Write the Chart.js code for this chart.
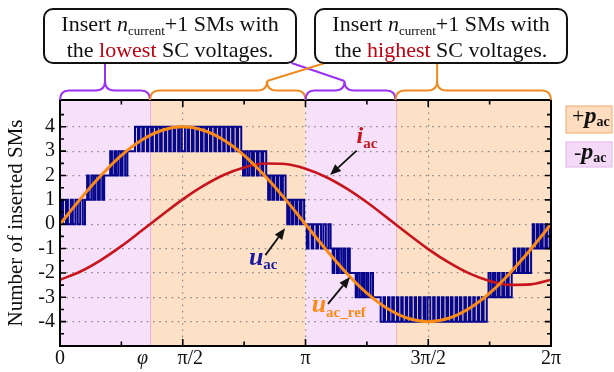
<!DOCTYPE html>
<html><head><meta charset="utf-8">
<script src="https://cdn.jsdelivr.net/npm/chart.js@4.4.1/dist/chart.umd.min.js"></script>
<style>html,body{margin:0;padding:0;background:#fff}#wrap{width:614px;height:372px;position:relative}</style>
</head><body><div id="wrap"><canvas id="c" width="614" height="372"></canvas></div>
<script>
// ---------------- data (angles in degrees) ----------------
const PHI = 66;
const angleDeg = [0,15,30,45,60,75,90,105,120,135,150,165,180,195,210,225,240,255,270,285,300,315,330,345,360];
const uacRef = [0,1.04,2.0,2.83,3.46,3.86,4.0,3.86,3.46,2.83,2.0,1.04,0,-1.04,-2.0,-2.83,-3.46,-3.86,-4.0,-3.86,-3.46,-2.83,-2.0,-1.04,0];
const iac = [-2.28,-1.94,-1.47,-0.90,-0.26,0.39,1.02,1.57,2.02,2.33,2.49,2.47,2.28,1.94,1.47,0.90,0.26,-0.39,-1.02,-1.57,-2.02,-2.33,-2.49,-2.47,-2.28];
// u_ac: bands of switching between two adjacent levels
const uacBandFrom = [0,1,2,3,3,2,1,0,-1,-2,-3,-3,-2,-1];
const uacBandAlt  = [1,2,3,4,2,1,0,-1,-2,-3,-4,-2,-1,0];
const uacToggles = [
  [1.0,2.3,4.4,5.8,7.9,9.4,11.3,13.0,14.8,16.7,18.3],
  [19.9,21.1,23.0,24.6,26.1,27.9,29.2,31.0,32.4],
  [36.8,38.1,39.9,41.3,42.9,44.6,45.9,47.8,49.4],
  [55.0,57.1,58.3,60.4,61.5,63.7,64.8,66.9,68.1,70.3,71.4,73.4,74.6,76.8,77.9,80.0,81.2,83.3,84.5,86.6,87.7,89.3,91.6,93.5,
   94.7,96.8,97.9,100.1,101.2,103.3,104.5,106.6,107.8,109.9,111.0,113.2,114.3,116.4,117.6,119.7,120.8,122.9,124.1,126.2,127.3,129.5,130.6,132.9],
  [134.2,135.7,137.4,139.0,140.8,142.2,144.3,145.6,147.7,149.0,151.2],
  [152.6,153.9,155.7,157.0,158.9,160.1,162.0,163.4,165.4],
  [166.6,167.9,169.6,170.9,172.7,173.9,175.8,177.1,179.0],
  [180.9,182.2,184.5,185.7,188.0,189.3,191.4,193.1,194.9,196.8,198.4],
  [199.9,201.2,203.1,204.5,206.2,207.8,209.3,211.1,212.5],
  [216.8,218.2,219.8,221.4,222.9,224.5,226.0,227.8,229.5],
  [235.1,237.2,238.3,240.5,241.6,243.6,244.8,247.0,248.1,250.2,251.3,253.5,254.6,256.7,257.9,260.1,261.1,263.2,264.4,266.6,267.8,269.5,271.5,273.6,
   274.7,276.9,278.0,280.0,281.2,283.4,284.5,286.5,287.8,290.0,291.1,293.1,294.3,296.5,297.6,299.7,300.9,303.0,304.1,306.3,307.4,309.4,310.6,312.9],
  [314.2,315.8,317.5,319.0,320.8,322.3,324.3,325.7,327.6,329.0,331.2],
  [332.6,333.8,335.8,337.0,338.8,340.2,342.0,343.3,345.4],
  [346.6,347.8,349.7,350.9,352.6,353.9,355.9,357.0,359.0]
];
const xTickValues = [0, PHI, 90, 180, 270, 360];
const xTickLabels = ['0', 'φ   ', '   π/2', 'π', '3π/2', '2π'];
const xGridValues = [90, 180, 270];
const yTickValues = [-4,-3,-2,-1,0,1,2,3,4];
const regionBounds = [0, PHI, 180, 180 + PHI, 360];
const regionKinds = ['minus','plus','minus','plus'];

// ---------------- build series ----------------
const refPts = angleDeg.map((a,i)=>({x:a,y:uacRef[i]}));
const iPts = angleDeg.map((a,i)=>({x:a,y:iac[i]}));
const uacPts = [{x:0,y:0}];
let lastLv = 0;
uacToggles.forEach((tg,b)=>{
  let lv = uacBandFrom[b];
  tg.forEach(t=>{ lv = (lv===uacBandFrom[b]) ? uacBandAlt[b] : uacBandFrom[b]; uacPts.push({x:t,y:lv}); });
  lastLv = lv;
});
uacPts.push({x:360,y:lastLv});

// ---------------- styling ----------------
const SERIF = '"Liberation Serif", "Times New Roman", serif';
const C_BLUE = '#06068c', C_RED = '#c8141c', C_ORANGE = '#fb8a16';
const C_PURPLE_BG = '#f7e1fa', C_ORANGE_BG = '#fde1c6';
const C_BRACE_P = '#9b30f5', C_BRACE_O = '#f08a1e';

function runs(ctx, parts, x, y, align){
  let w = 0;
  parts.forEach(p=>{ ctx.font = p.f; p.w = ctx.measureText(p.t).width; w += p.w; });
  let cx = align==='center' ? x - w/2 : x;
  ctx.textBaseline = 'alphabetic'; ctx.textAlign = 'left';
  parts.forEach(p=>{ ctx.font = p.f; ctx.fillStyle = p.c || '#111'; ctx.fillText(p.t, cx, y + (p.dy||0)); cx += p.w; });
}
function arrow(ctx, x1, y1, x2, y2){
  const ang = Math.atan2(y2-y1, x2-x1), L = 11, H = 4.5;
  const bx = x2 - L*Math.cos(ang), by = y2 - L*Math.sin(ang);
  ctx.strokeStyle = '#111'; ctx.lineWidth = 1.8;
  ctx.beginPath(); ctx.moveTo(x1,y1); ctx.lineTo(bx,by); ctx.stroke();
  ctx.fillStyle = '#111'; ctx.beginPath();
  ctx.moveTo(x2,y2);
  ctx.lineTo(bx + H*Math.sin(ang), by - H*Math.cos(ang));
  ctx.lineTo(bx - H*Math.sin(ang), by + H*Math.cos(ang));
  ctx.closePath(); ctx.fill();
}
function brace(ctx, x0, x1, xc, color){
  const yEnd = 100, yMid = 90.5, yTip = 81, r = 9;
  ctx.strokeStyle = color; ctx.lineWidth = 2;
  ctx.beginPath();
  ctx.moveTo(x0, yEnd);
  ctx.quadraticCurveTo(x0, yMid, x0 + r, yMid);
  ctx.lineTo(xc - r, yMid);
  ctx.quadraticCurveTo(xc, yMid, xc, yTip);
  ctx.quadraticCurveTo(xc, yMid, xc + r, yMid);
  ctx.lineTo(x1 - r, yMid);
  ctx.quadraticCurveTo(x1, yMid, x1, yEnd);
  ctx.stroke();
}

const decor = {
  id: 'decor',
  beforeDraw(chart){
    const {ctx, chartArea:a, scales:{x}} = chart;
    ctx.save();
    for (let i=0;i<regionKinds.length;i++){
      const l = x.getPixelForValue(regionBounds[i]), r = x.getPixelForValue(regionBounds[i+1]);
      ctx.fillStyle = regionKinds[i]==='plus' ? C_ORANGE_BG : C_PURPLE_BG;
      ctx.fillRect(l, a.top, r-l, a.bottom-a.top);
    }
    ctx.strokeStyle = '#eeaedd'; ctx.lineWidth = 1;
    [PHI, 180+PHI].forEach(v=>{ const px = Math.round(x.getPixelForValue(v))+0.5; ctx.beginPath(); ctx.moveTo(px,a.top); ctx.lineTo(px,a.bottom); ctx.stroke(); });
    ctx.restore();
  },
  afterDraw(chart){
    const {ctx, chartArea:a, scales:{x,y}} = chart;
    const X = v=>x.getPixelForValue(v), Y = v=>y.getPixelForValue(v);
    ctx.save();
    // inward ticks
    ctx.strokeStyle = '#000'; ctx.lineWidth = 1.6;
    ctx.beginPath();
    for (let i=-9;i<=9;i++){
      const py = Y(i/2), L = (i%2===0) ? 6 : 4;
      ctx.moveTo(a.left, py); ctx.lineTo(a.left+L, py);
      ctx.moveTo(a.right, py); ctx.lineTo(a.right-L, py);
    }
    for (let k=1;k<8;k++){
      const px = X(45*k), L = (k%2===0) ? 7 : 4.5;
      ctx.moveTo(px, a.bottom); ctx.lineTo(px, a.bottom-L);
      ctx.moveTo(px, a.top); ctx.lineTo(px, a.top+L);
    }
    ctx.stroke();
    // frame
    ctx.lineWidth = 2; ctx.strokeStyle = '#000';
    ctx.strokeRect(a.left, a.top, a.right-a.left, a.bottom-a.top);

    // braces & connectors
    brace(ctx, X(0), X(PHI), X(33), C_BRACE_P);
    brace(ctx, X(PHI), X(180), X(151.8), C_BRACE_O);
    brace(ctx, X(180), X(180+PHI), X(208.6), C_BRACE_P);
    brace(ctx, X(180+PHI), X(360), X(276.5), C_BRACE_O);
    ctx.lineWidth = 2;
    ctx.strokeStyle = C_BRACE_P;
    ctx.beginPath(); ctx.moveTo(X(33), 81); ctx.lineTo(X(33), 63); ctx.stroke();
    ctx.beginPath(); ctx.moveTo(X(208.6), 81); ctx.lineTo(291.5, 63); ctx.stroke();
    ctx.strokeStyle = C_BRACE_O;
    ctx.beginPath(); ctx.moveTo(X(151.8), 81); ctx.lineTo(325, 63); ctx.stroke();
    ctx.beginPath(); ctx.moveTo(X(276.5), 81); ctx.lineTo(X(276.5), 63); ctx.stroke();

    // text boxes
    const boxes = [
      {x:44, w:252, word:'lowest'},
      {x:315, w:252, word:'highest'}
    ];
    boxes.forEach(b=>{
      ctx.fillStyle = '#fff'; ctx.strokeStyle = '#111'; ctx.lineWidth = 2;
      ctx.beginPath(); ctx.roundRect(b.x, 9, b.w, 54, 9); ctx.fill(); ctx.stroke();
      const cx = b.x + b.w/2;
      runs(ctx, [
        {t:'Insert ', f:'22px '+SERIF},
        {t:'n', f:'italic 22px '+SERIF},
        {t:'current', f:'13px '+SERIF, dy:4},
        {t:'+1 SMs with', f:'22px '+SERIF}
      ], cx, 31, 'center');
      runs(ctx, [
        {t:'the ', f:'22px '+SERIF},
        {t:b.word, f:'22px '+SERIF, c:'#c00010'},
        {t:' SC voltages.', f:'22px '+SERIF}
      ], cx, 57, 'center');
    });

    // legend boxes (right)
    ctx.lineWidth = 1.2;
    ctx.fillStyle = '#fddcbf'; ctx.strokeStyle = '#f7b57e';
    ctx.fillRect(566, 106, 46, 27); ctx.strokeRect(566, 106, 46, 27);
    ctx.fillStyle = '#f5daf8'; ctx.strokeStyle = '#e6bdf0';
    ctx.fillRect(566, 142, 46, 25); ctx.strokeRect(566, 142, 46, 25);
    runs(ctx, [
      {t:'+', f:'22px '+SERIF},
      {t:'p', f:'bold italic 24px '+SERIF},
      {t:'ac', f:'bold 14px '+SERIF, dy:3}
    ], 572, 123, 'left');
    runs(ctx, [
      {t:'-', f:'italic 22px '+SERIF},
      {t:'p', f:'bold italic 24px '+SERIF},
      {t:'ac', f:'bold 14px '+SERIF, dy:3}
    ], 574, 159, 'left');

    // series labels & arrows
    runs(ctx, [
      {t:'i', f:'bold italic 24px '+SERIF, c:C_RED},
      {t:'ac', f:'bold 15px '+SERIF, c:C_RED, dy:5}
    ], X(217.4), Y(3.33), 'left');
    arrow(ctx, X(217.5), Y(3.02), X(198.0), Y(2.02));

    runs(ctx, [
      {t:'u', f:'bold italic 26px '+SERIF, c:'#1a1aa0'},
      {t:'ac', f:'bold 15px '+SERIF, c:'#1a1aa0', dy:4}
    ], X(138.5), Y(-1.67), 'left');
    arrow(ctx, X(150.6), Y(-1.27), X(165.0), Y(-0.17));

    runs(ctx, [
      {t:'u', f:'bold italic 26px '+SERIF, c:C_ORANGE},
      {t:'ac_ref', f:'bold 15px '+SERIF, c:C_ORANGE, dy:5}
    ], X(184.5), Y(-3.6), 'left');
    arrow(ctx, X(196.5), Y(-3.27), X(212.6), Y(-2.17));
    ctx.restore();
  }
};

new Chart(document.getElementById('c'), {
  type: 'line',
  data: { datasets: [
    { label:'u_ac_ref', data: refPts, borderColor: C_ORANGE, borderWidth: 3, pointRadius: 0,
      cubicInterpolationMode: 'monotone', order: 0 },
    { label:'i_ac', data: iPts, borderColor: C_RED, borderWidth: 2.6, pointRadius: 0,
      cubicInterpolationMode: 'monotone', order: 1 },
    { label:'u_ac', data: uacPts, borderColor: C_BLUE, borderWidth: 2.0, pointRadius: 0,
      stepped: true, borderJoinStyle: 'miter', order: 2 }
  ]},
  options: {
    responsive: false, animation: false, devicePixelRatio: 1,
    layout: { padding: { top: 100, right: 63, left: 0, bottom: 0 } },
    plugins: { legend: { display: false }, tooltip: { enabled: false } },
    scales: {
      x: {
        type: 'linear', min: 0, max: 360,
        afterBuildTicks: s => { s.ticks = xTickValues.map(v=>({value:v})); },
        afterFit: s => { s.height = 26; },
        ticks: {
          autoSkip: false, maxRotation: 0, padding: 1, color: '#111',
          callback: (v, i) => xTickLabels[i],
          font: c => (c.tick && c.tick.value === PHI) ? {family: SERIF, size: 20, style: 'italic'} : {family: SERIF, size: 20}
        },
        grid: {
          drawTicks: false, lineWidth: 1.2,
          color: c => (c.tick && xGridValues.includes(c.tick.value)) ? '#8a8a8a' : 'rgba(0,0,0,0)'
        },
        border: { display: false, dash: [1.6, 4.6] }
      },
      y: {
        type: 'linear', min: -5, max: 5.1,
        afterBuildTicks: s => { s.ticks = yTickValues.map(v=>({value:v})); },
        afterFit: s => { s.width = 60; },
        ticks: { padding: 5, color: '#111', font: {family: SERIF, size: 20} },
        grid: { drawTicks: false, lineWidth: 1.2, color: '#8a8a8a' },
        border: { display: false, dash: [1.6, 4.6] },
        title: { display: true, text: 'Number of inserted SMs', color: '#111', font: {family: SERIF, size: 21}, padding: {top: 4, bottom: 2} }
      }
    }
  },
  plugins: [decor]
});
</script>
</body></html>
